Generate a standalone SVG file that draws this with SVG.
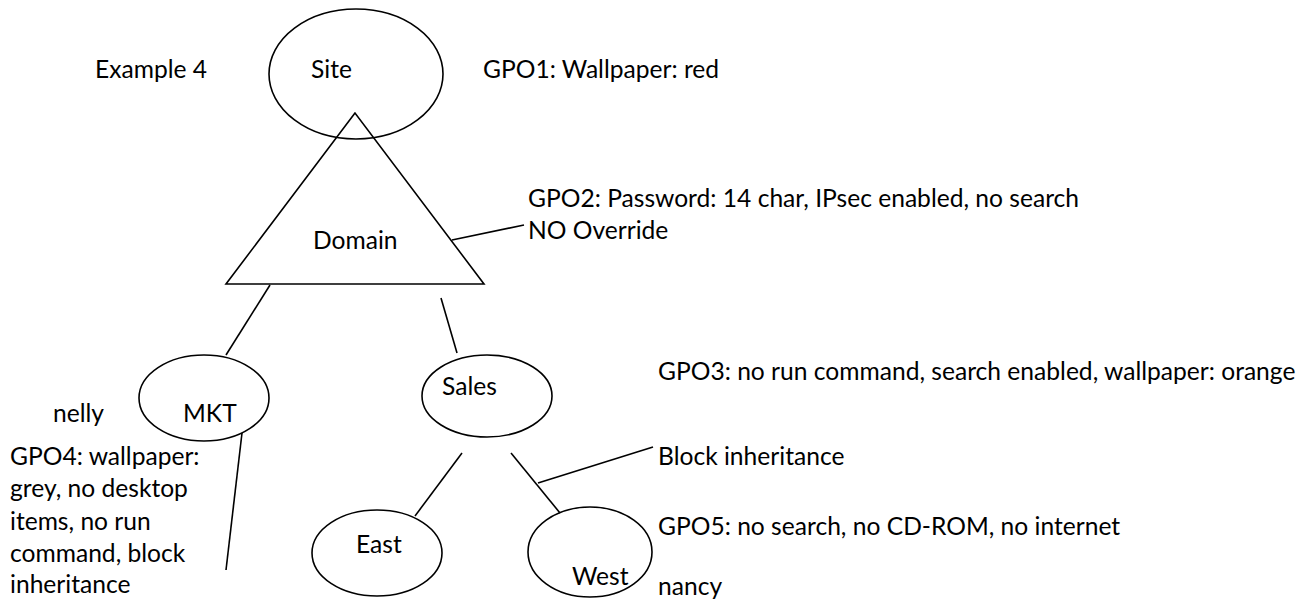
<svg xmlns="http://www.w3.org/2000/svg" width="1309" height="603" viewBox="0 0 1309 603">
<style>
.t{font-family:Lato,"Liberation Sans",sans-serif;font-size:24.6px;fill:#000}
.s{fill:none;stroke:#000;stroke-width:1.6}
</style>
<rect width="1309" height="603" fill="#fff"/>
<g id="connectors" class="s">
<line x1="270" y1="285" x2="226" y2="355"/>
<line x1="441" y1="298" x2="457" y2="353"/>
<line x1="452" y1="240" x2="524" y2="225"/>
<line x1="242" y1="433" x2="226" y2="570"/>
<line x1="462" y1="453" x2="415" y2="516"/>
<line x1="511" y1="453" x2="560" y2="513"/>
<line x1="538" y1="483" x2="653" y2="447"/>
</g>
<g id="site"><ellipse class="s" cx="356" cy="74" rx="87" ry="65"/><text class="t" x="311" y="78">Site</text></g>
<g id="domain"><polygon class="s" points="355,113 226,284 484,284"/><text class="t" x="313" y="249">Domain</text></g>
<g id="mkt"><ellipse class="s" cx="204" cy="398" rx="65" ry="43"/><text class="t" x="183" y="422">MKT</text></g>
<g id="sales"><ellipse class="s" cx="487" cy="396" rx="65" ry="41"/><text class="t" x="442" y="395">Sales</text></g>
<g id="east"><ellipse class="s" cx="377" cy="553" rx="65" ry="43"/><text class="t" x="356" y="553">East</text></g>
<g id="west"><ellipse class="s" cx="590" cy="552" rx="62" ry="45"/><text class="t" x="572" y="585">West</text></g>
<g id="labels">
<text class="t" x="95" y="78">Example 4</text>
<text class="t" x="483" y="78">GPO1: Wallpaper: red</text>
<text class="t" x="528" y="207">GPO2: Password: 14 char, IPsec enabled, no search</text>
<text class="t" x="528" y="239">NO Override</text>
<text class="t" x="53" y="422">nelly</text>
<text class="t" x="10" y="465">GPO4: wallpaper:</text>
<text class="t" x="10" y="497">grey, no desktop</text>
<text class="t" x="10" y="530">items, no run</text>
<text class="t" x="10" y="562">command, block</text>
<text class="t" x="10" y="593">inheritance</text>
<text class="t" x="658" y="380">GPO3: no run command, search enabled, wallpaper: orange</text>
<text class="t" x="658" y="465">Block inheritance</text>
<text class="t" x="658" y="535">GPO5: no search, no CD-ROM, no internet</text>
<text class="t" x="658" y="595">nancy</text>
</g>
</svg>
